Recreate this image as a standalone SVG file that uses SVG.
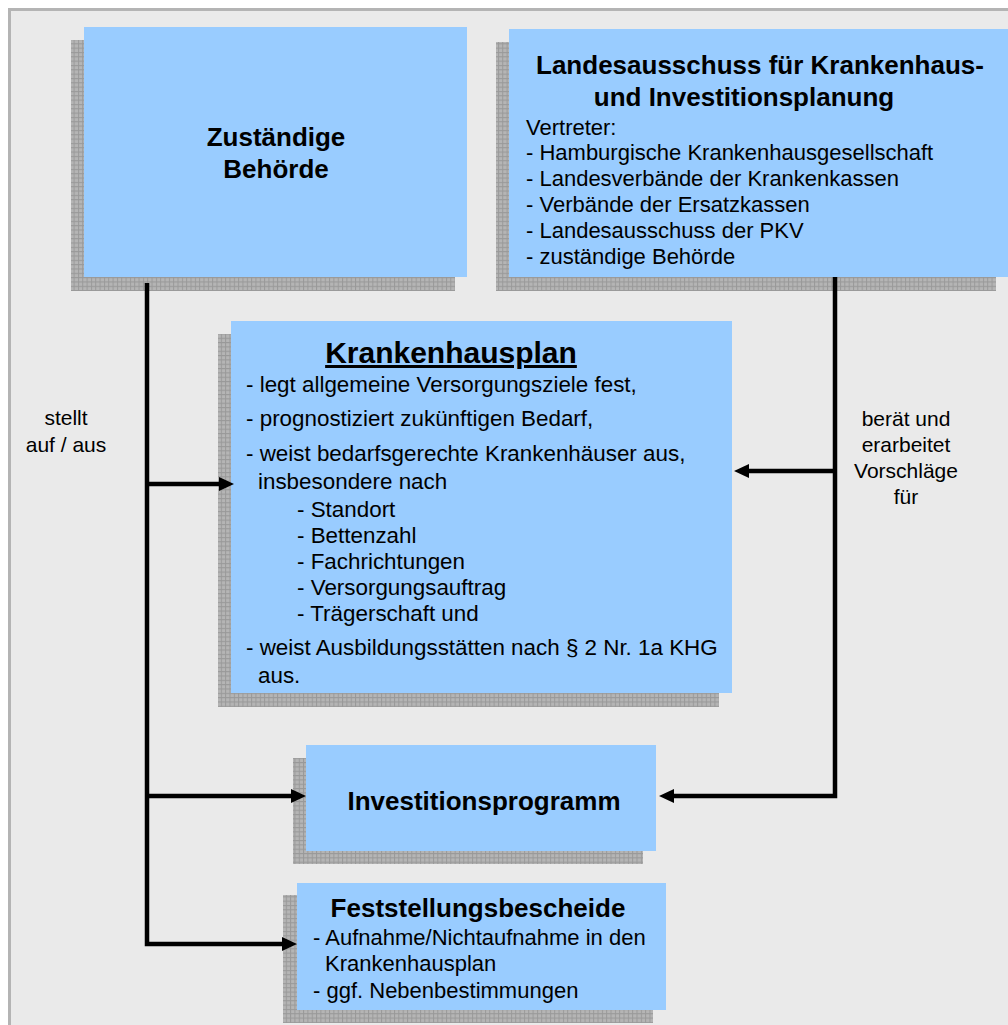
<svg xmlns="http://www.w3.org/2000/svg" width="1008" height="1025" viewBox="0 0 1008 1025">
  <defs>
    <!-- hatched drop shadow fill -->
    <pattern id="grid" patternUnits="userSpaceOnUse" width="4.33" height="4.33">
      <rect width="4.33" height="4.33" fill="#b5b5b5"/>
      <path d="M0,0.5 H4.33 M0.5,0 V4.33" stroke="#999999" stroke-width="1" fill="none"/>
    </pattern>
    <marker id="arrow" markerUnits="userSpaceOnUse" markerWidth="16" markerHeight="16" refX="7" refY="7" orient="auto">
      <path d="M0,0 L15,7 L0,14 z" fill="#000"/>
    </marker>
    <style>
      .shadow { fill: url(#grid); }
      .box { fill: #99ccff; }
      .t { font-family: "Liberation Sans", Arial, sans-serif; font-size: 21px; fill: #000; }
      .m { font-size: 22px; }
      .l { font-size: 22.4px; }
      .b { font-family: "Liberation Sans", Arial, sans-serif; font-size: 26px; font-weight: bold; fill: #000; }
      .c { text-anchor: middle; }
      .link { fill: none; stroke: #000; stroke-width: 4.5; }
    </style>
  </defs>

  <!-- page frame -->
  <rect x="0" y="0" width="1008" height="1025" fill="#ffffff"/>
  <rect x="9.5" y="9.5" width="1100" height="1100" fill="#eaeaea" stroke="#b4b4b4" stroke-width="3"/>

  <g id="behoerde">
    <rect class="shadow" x="71" y="40" width="384" height="251"/>
    <rect class="box" x="84" y="27" width="383" height="250"/>
    <text class="b c" x="276" y="146">Zuständige</text>
    <text class="b c" x="276" y="178">Behörde</text>
  </g>

  <g id="landesausschuss">
    <rect class="shadow" x="496" y="42" width="500" height="249"/>
    <rect class="box" x="509" y="29" width="499" height="248"/>
    <text class="b c" x="760" y="74">Landesausschuss für Krankenhaus-</text>
    <text class="b c" x="744" y="106">und Investitionsplanung</text>
    <text class="t m" x="526" y="135">Vertreter:</text>
    <text class="t m" x="526" y="160">- Hamburgische Krankenhausgesellschaft</text>
    <text class="t m" x="526" y="186">- Landesverbände der Krankenkassen</text>
    <text class="t m" x="526" y="212">- Verbände der Ersatzkassen</text>
    <text class="t m" x="526" y="238">- Landesausschuss der PKV</text>
    <text class="t m" x="526" y="264">- zuständige Behörde</text>
  </g>

  <g id="krankenhausplan">
    <rect class="shadow" x="218" y="334" width="501" height="373"/>
    <rect class="box" x="231" y="321" width="501" height="372"/>
    <text class="b c" x="451" y="363" style="font-size:30px" text-decoration="underline">Krankenhausplan</text>
    <text class="t l" x="246" y="392">- legt allgemeine Versorgungsziele fest,</text>
    <text class="t l" x="246" y="426">- prognostiziert zukünftigen Bedarf,</text>
    <text class="t l" x="246" y="461">- weist bedarfsgerechte Krankenhäuser aus,</text>
    <text class="t l" x="258" y="489">insbesondere nach</text>
    <text class="t l" x="297" y="517">- Standort</text>
    <text class="t l" x="297" y="543">- Bettenzahl</text>
    <text class="t l" x="297" y="569">- Fachrichtungen</text>
    <text class="t l" x="297" y="595">- Versorgungsauftrag</text>
    <text class="t l" x="297" y="621">- Trägerschaft und</text>
    <text class="t l" x="246" y="655">- weist Ausbildungsstätten nach § 2 Nr. 1a KHG</text>
    <text class="t l" x="258" y="683">aus.</text>
  </g>

  <g id="investitionsprogramm">
    <rect class="shadow" x="293" y="758" width="350" height="106"/>
    <rect class="box" x="306" y="745" width="350" height="106"/>
    <text class="b c" x="484" y="810">Investitionsprogramm</text>
  </g>

  <g id="feststellungsbescheide">
    <rect class="shadow" x="283" y="895" width="370" height="128"/>
    <rect class="box" x="297" y="883" width="369" height="127"/>
    <text class="b c" x="478" y="917">Feststellungsbescheide</text>
    <text class="t m" x="313" y="945">- Aufnahme/Nichtaufnahme in den</text>
    <text class="t m" x="325" y="971">Krankenhausplan</text>
    <text class="t m" x="313" y="998">- ggf. Nebenbestimmungen</text>
  </g>

  <!-- side labels -->
  <g id="labels">
    <text class="t c" x="66" y="425">stellt</text>
    <text class="t c" x="66" y="452">auf / aus</text>
    <text class="t c" x="906" y="426">berät und</text>
    <text class="t c" x="906" y="452">erarbeitet</text>
    <text class="t c" x="906" y="478">Vorschläge</text>
    <text class="t c" x="906" y="504">für</text>
  </g>

  <g id="connectors">
    <path class="link" d="M147,283 V944 H289" marker-end="url(#arrow)"/>
    <path class="link" d="M147,484 H226" marker-end="url(#arrow)"/>
    <path class="link" d="M147,796 H298" marker-end="url(#arrow)"/>
    <path class="link" d="M835,277 V796 H667" marker-end="url(#arrow)"/>
    <path class="link" d="M835,471 H742" marker-end="url(#arrow)"/>
  </g>
</svg>
